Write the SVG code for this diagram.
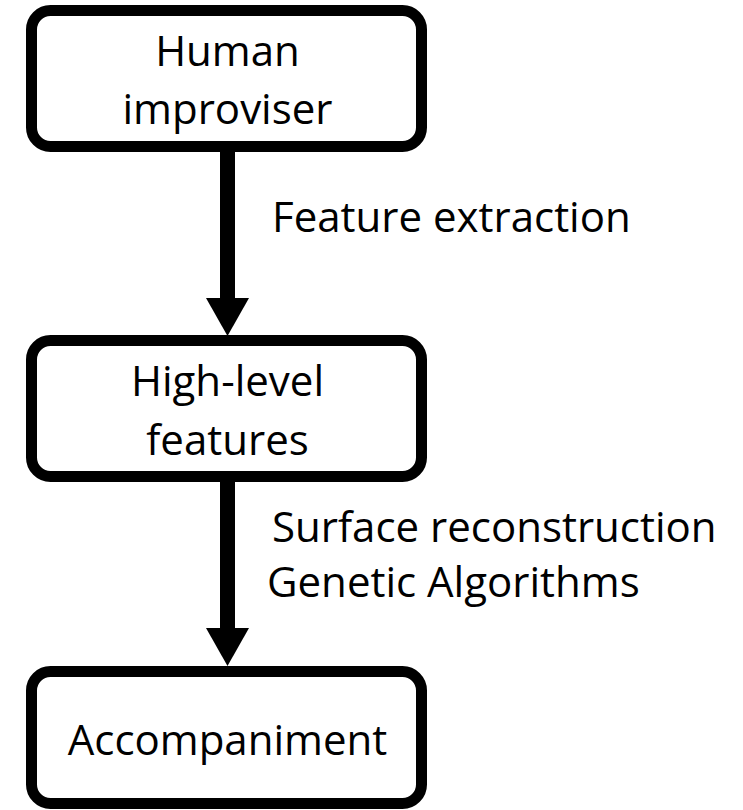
<svg xmlns="http://www.w3.org/2000/svg" width="743" height="810" viewBox="0 0 743 810">
<defs>
<style>
.box{fill:#ffffff;stroke:#000000;stroke-width:11}
.t{font-family:"Open Sans","Liberation Sans",sans-serif;font-size:42px;fill:#000000}
.c{text-anchor:middle}
.shaft{stroke:#000000;stroke-width:15;fill:none}
.head{fill:#000000}
</style>
</defs>
<rect width="743" height="810" fill="#ffffff"/>
<g id="connectors">
<g id="edge1">
<line class="shaft" x1="227.5" y1="150" x2="227.5" y2="300"/>
<polygon class="head" points="206,298 249,298 227.5,336"/>
</g>
<g id="edge2">
<line class="shaft" x1="227.5" y1="480" x2="227.5" y2="630"/>
<polygon class="head" points="206,628 249,628 227.5,666"/>
</g>
<text class="t" x="272" y="232">Feature extraction</text>
<text class="t" x="272" y="542">Surface reconstruction</text>
<text class="t" x="267" y="597">Genetic Algorithms</text>
</g>
<g id="node-human">
<rect class="box" x="31.5" y="10.5" width="390" height="136" rx="19"/>
<text class="t c" x="227.5" y="66">Human</text>
<text class="t c" x="227.5" y="124">improviser</text>
</g>
<g id="node-features">
<rect class="box" x="31.5" y="340.5" width="390" height="136" rx="19"/>
<text class="t c" x="227.5" y="396">High-level</text>
<text class="t c" x="227.5" y="455">features</text>
</g>
<g id="node-accompaniment">
<rect class="box" x="31.5" y="671.5" width="390" height="132" rx="19"/>
<text class="t c" x="227.5" y="755">Accompaniment</text>
</g>
</svg>
